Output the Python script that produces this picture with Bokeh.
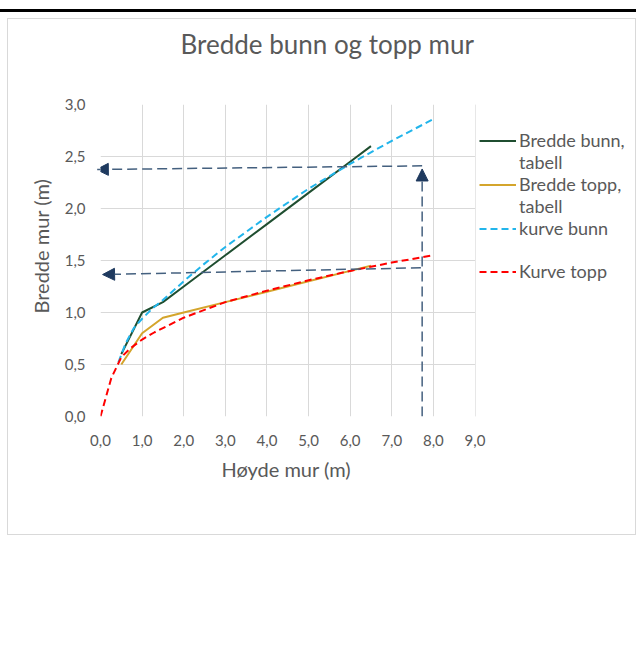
from bokeh.plotting import figure
from bokeh.models import (ColumnDataSource, Legend, LegendItem, Arrow, NormalHead,
                          CustomJSTickFormatter, FixedTicker, Range1d, Div, Title,
                          BoxAnnotation)
from bokeh.layouts import column
from bokeh.embed import file_html
from bokeh.resources import INLINE

# ---- data ----
title_text = "Bredde bunn og topp mur"
x_label = "Høyde mur (m)"
y_label = "Bredde mur (m)"
x_ticks = [0, 1, 2, 3, 4, 5, 6, 7, 8, 9]
y_ticks = [0, 0.5, 1.0, 1.5, 2.0, 2.5, 3.0]

bunn_tab_x = [0.5, 1.0, 1.5, 2.0, 3.0, 4.0, 5.0, 6.0, 6.5]
bunn_tab_y = [0.6, 1.0, 1.1, 1.25, 1.55, 1.85, 2.15, 2.45, 2.6]

topp_tab_x = [0.5, 1.0, 1.5, 2.0, 3.0, 4.0, 5.0, 6.0, 6.5]
topp_tab_y = [0.5, 0.8, 0.95, 1.0, 1.1, 1.2, 1.3, 1.4, 1.45]

kurve_bunn_x = [0.43, 0.6, 0.8, 1.0, 1.25, 1.5, 2.0, 2.5, 3.0, 4.0, 5.0, 6.0, 7.0, 8.0]
kurve_bunn_y = [0.52, 0.70, 0.85, 0.94, 1.04, 1.12, 1.30, 1.47, 1.63, 1.92, 2.19, 2.43, 2.65, 2.86]

kurve_topp_x = [0.0, 0.26, 0.5, 0.7, 1.0, 1.3, 1.5, 2.0, 3.0, 4.0, 5.0, 6.0, 7.0, 8.0]
kurve_topp_y = [0.0, 0.37, 0.57, 0.65, 0.74, 0.81, 0.85, 0.95, 1.10, 1.21, 1.31, 1.40, 1.48, 1.55]

# annotation arrows (start -> end, head at end)
arrow_x_start = [7.73, 7.73, 7.70]
arrow_y_start = [0.0, 2.41, 1.43]
arrow_x_end = [7.73, -0.10, 0.05]
arrow_y_end = [2.38, 2.375, 1.365]

# ---- styles ----
FONT = "Lato"
TXT = "#595959"
GRID = "#d9d9d9"

FIG_W, FIG_H = 629, 517
LEFT, TOP, BOTTOM = 92, 85, 120
PLOT_W = 374.5                       # pixel width of the 0..9 plot area
frame_w = FIG_W - LEFT
x_end = x_ticks[-1] * frame_w / PLOT_W   # frame extends right to hold the legend

p = figure(width=FIG_W, height=FIG_H, output_backend="svg", toolbar_location=None,
           x_range=Range1d(0, x_end), y_range=Range1d(0, 3),
           min_border_left=LEFT, min_border_right=0, min_border_top=TOP,
           min_border_bottom=BOTTOM, margin=(6, 0, 0, 7),
           styles={"border": "1px solid #d9d9d9"}, title=None)

# spacer + title in the "above" panel (later added = further from the frame)
p.add_layout(Title(text=" ", text_font=FONT, text_font_size="26px", standoff=11), "above")
p.add_layout(Title(text=title_text, text_font=FONT, text_font_size="26px",
                   text_font_style="normal", text_color=TXT, align="left",
                   offset=80, standoff=0), "above")

fmt = CustomJSTickFormatter(code="return tick.toFixed(1).replace('.', ',');")
for ax, ticks in ((p.xaxis[0], x_ticks), (p.yaxis[0], y_ticks)):
    ax.ticker = FixedTicker(ticks=ticks)
    ax.formatter = fmt
    ax.axis_line_color = None
    ax.major_tick_line_color = None
    ax.minor_tick_line_color = None
    ax.major_tick_out = 0
    ax.major_label_text_font = FONT
    ax.major_label_text_font_size = "15px"
    ax.major_label_text_color = TXT

p.xaxis.major_label_standoff = 18
p.yaxis.major_label_standoff = 15

# axis titles, centred on the 0..9 plot area rather than on the whole frame
p.add_layout(Title(text=x_label, text_font=FONT, text_font_size="20px",
                   text_font_style="normal", text_color=TXT, align="left",
                   vertical_align="top", offset=121, standoff=16), "below")
p.add_layout(Title(text=y_label, text_font=FONT, text_font_size="20px",
                   text_font_style="normal", text_color=TXT, align="left",
                   vertical_align="bottom", offset=103, standoff=18), "left")

p.xgrid.grid_line_color = GRID
p.ygrid.grid_line_color = GRID
p.outline_line_color = None
p.background_fill_color = "white"
p.border_fill_color = "white"

# white area right of the plot area (legend zone)
p.add_layout(BoxAnnotation(left=x_ticks[-1] + 0.015, fill_color="white", fill_alpha=1,
                           line_alpha=0, level="underlay"))

r_bt = p.line(bunn_tab_x, bunn_tab_y, line_color="#1f4e30", line_width=2)
r_tt = p.line(topp_tab_x, topp_tab_y, line_color="#d4a52c", line_width=2)
r_kb = p.line(kurve_bunn_x, kurve_bunn_y, line_color="#22b5eb", line_width=2, line_dash="7 4")
r_kt = p.line(kurve_topp_x, kurve_topp_y, line_color="#ff0000", line_width=2, line_dash="7 4")
r_blank = p.line([], [], line_alpha=0)

asrc = ColumnDataSource(dict(x0=arrow_x_start, y0=arrow_y_start, x1=arrow_x_end, y1=arrow_y_end))
p.add_layout(Arrow(source=asrc, x_start="x0", y_start="y0", x_end="x1", y_end="y1",
                   line_color="#44607f", line_width=1.5, line_dash="10 5",
                   end=NormalHead(size=12, fill_color="#1f3a5f", line_color="#1f3a5f")))

legend = Legend(items=[
    LegendItem(label="Bredde bunn,", renderers=[r_bt]),
    LegendItem(label="tabell", renderers=[r_blank]),
    LegendItem(label="Bredde topp,", renderers=[r_tt]),
    LegendItem(label="tabell", renderers=[r_blank]),
    LegendItem(label="kurve bunn", renderers=[r_kb]),
    LegendItem(label=" ", renderers=[r_blank]),
    LegendItem(label="Kurve topp", renderers=[r_kt]),
], location=(379, 134), padding=0, margin=0, spacing=0,
   glyph_width=37, glyph_height=21, label_height=21, label_standoff=3,
   label_text_font=FONT, label_text_font_size="18px", label_text_color=TXT,
   border_line_alpha=0, background_fill_alpha=0)
p.add_layout(legend, "center")

top_line = Div(text="", width=636, height=3, margin=(9, 0, 0, 0),
               styles={"background-color": "black"})

layout = column(top_line, p, spacing=0)

open("out.html", "w").write(file_html(layout, INLINE))
